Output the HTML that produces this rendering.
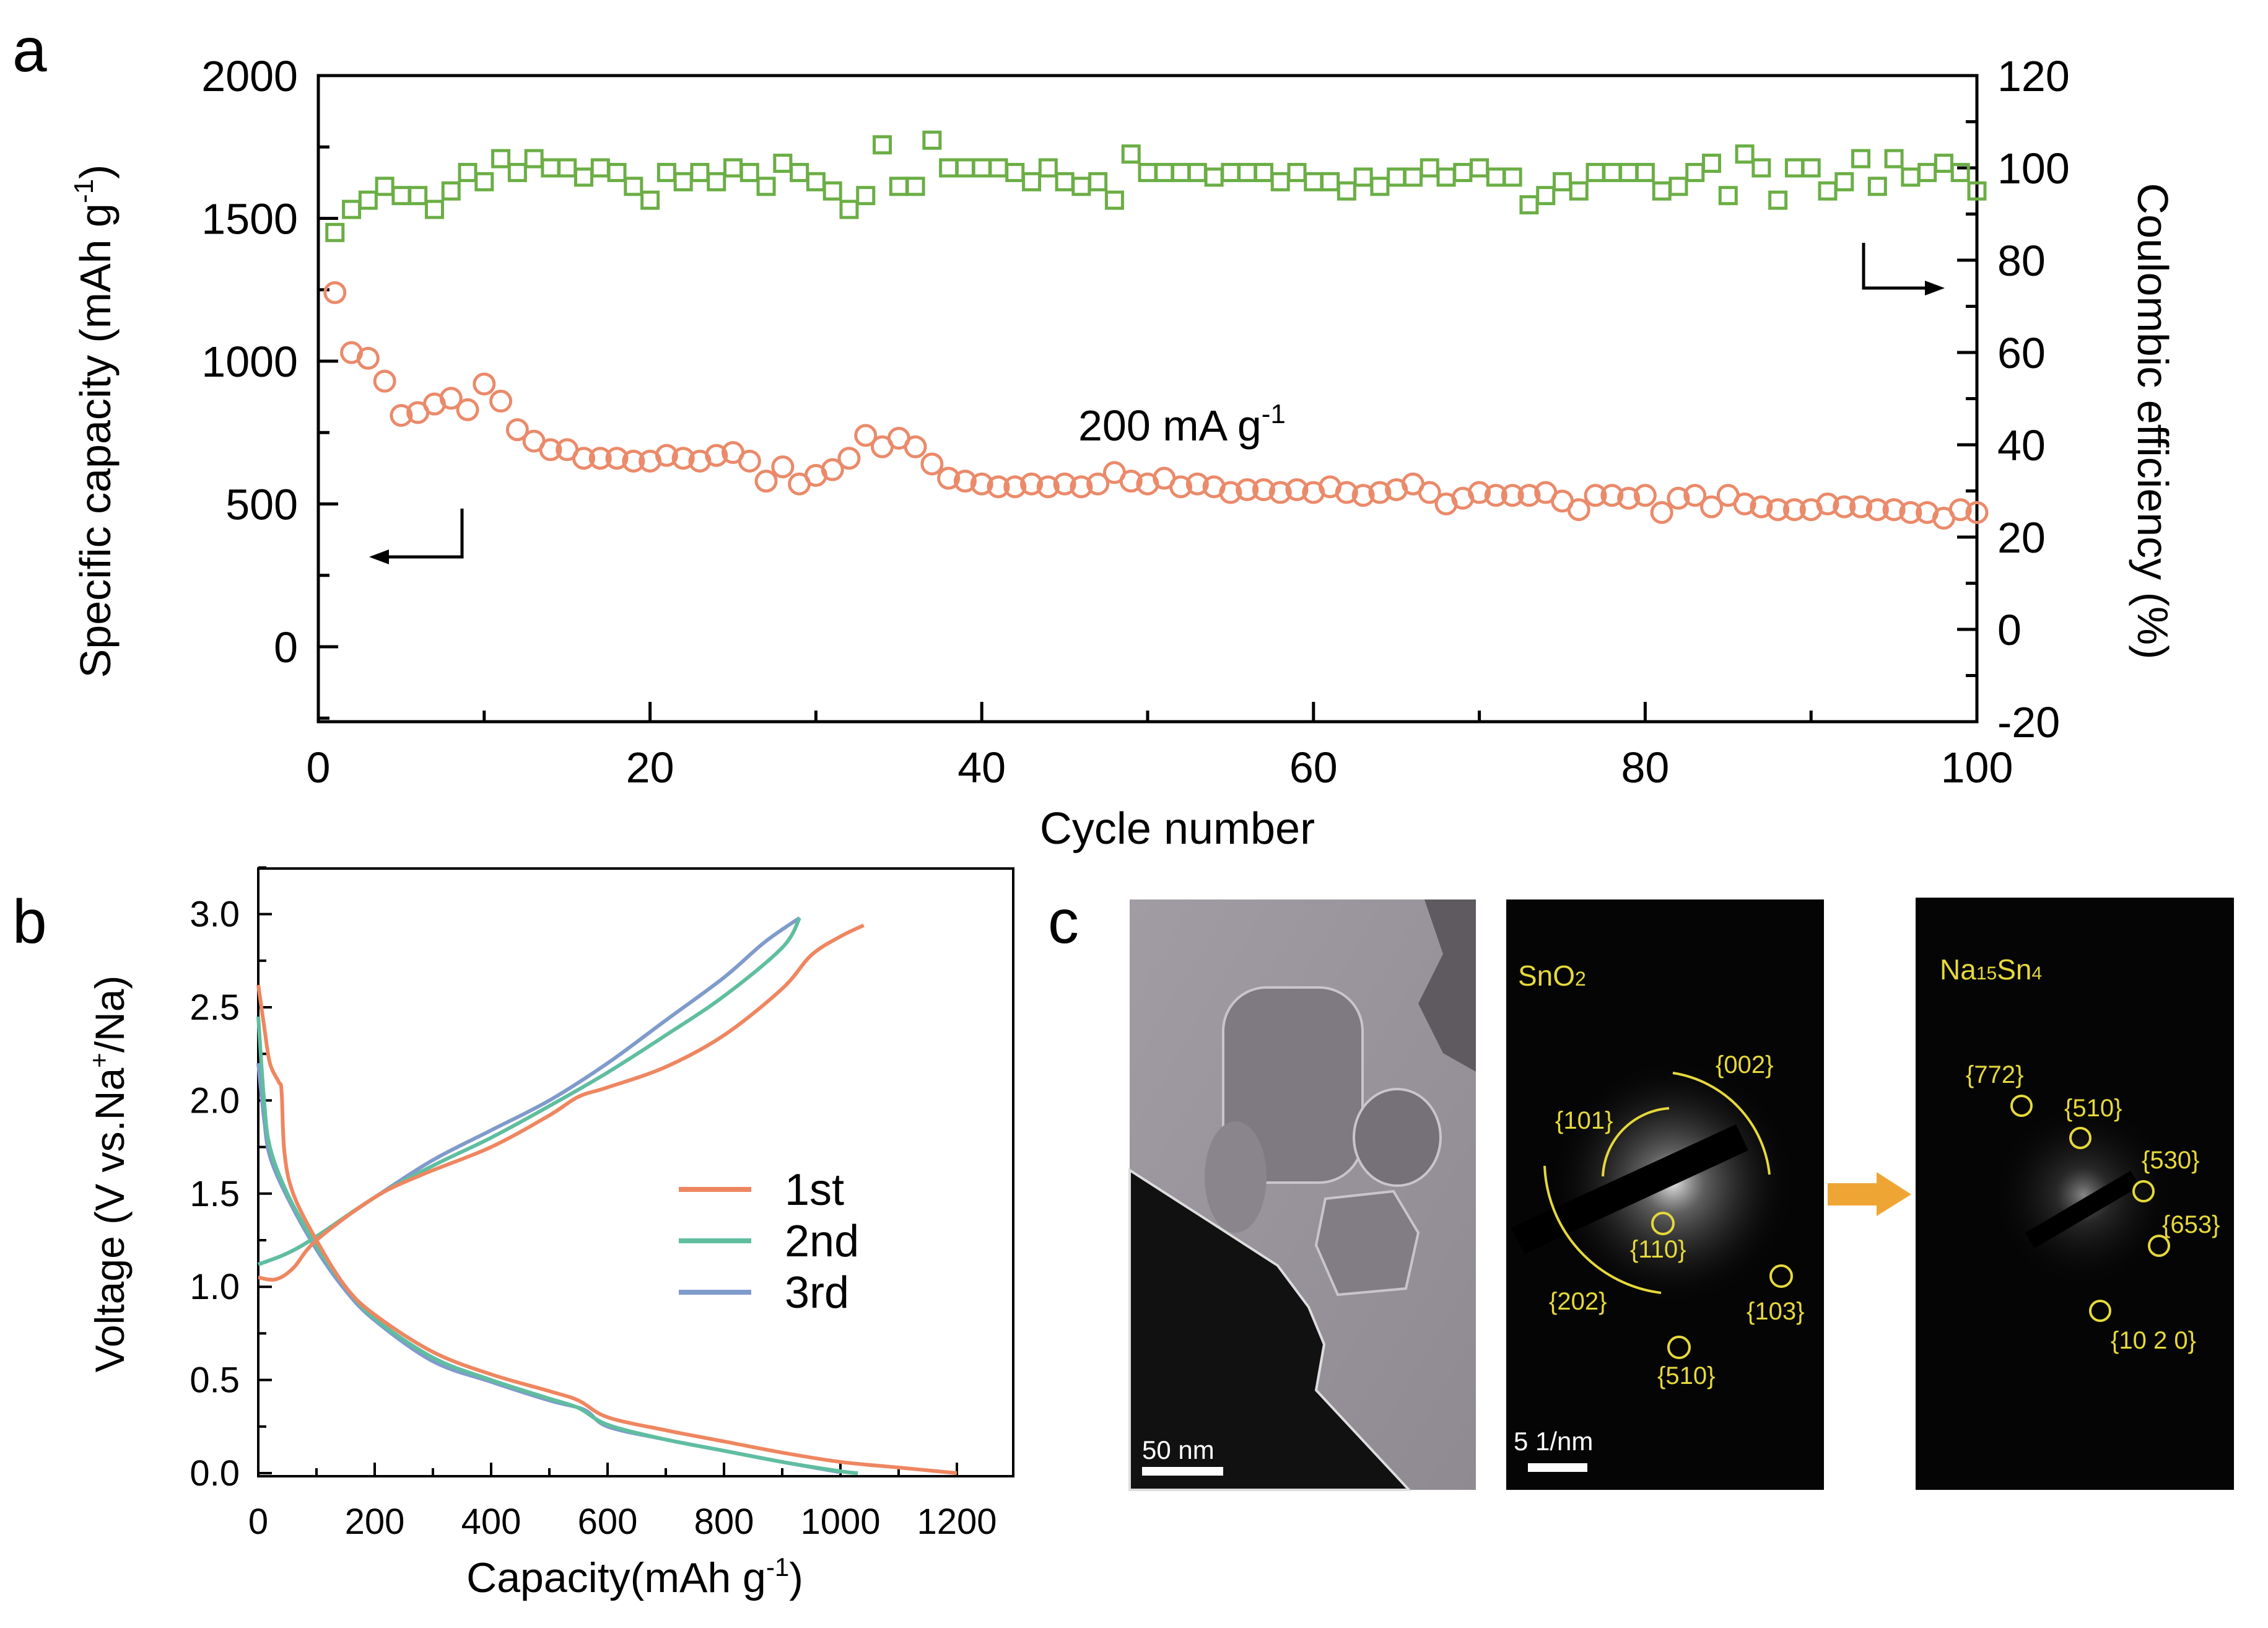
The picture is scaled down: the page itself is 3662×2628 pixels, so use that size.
<!DOCTYPE html>
<html><head><meta charset="utf-8"><style>
html,body{margin:0;padding:0;background:#fff}
svg{display:block}
text{font-family:"Liberation Sans",sans-serif}
</style></head><body>
<svg id="fig" width="3662" height="2628" viewBox="0 0 3662 2628" xmlns="http://www.w3.org/2000/svg">
<defs>
<radialGradient id="glow1" cx="0.5" cy="0.5" r="0.5"><stop offset="0" stop-color="#fff" stop-opacity="0.9"/><stop offset="0.25" stop-color="#bbb" stop-opacity="0.5"/><stop offset="1" stop-color="#000" stop-opacity="0"/></radialGradient>
<radialGradient id="glow2" cx="0.5" cy="0.5" r="0.5"><stop offset="0" stop-color="#ddd" stop-opacity="0.6"/><stop offset="0.3" stop-color="#777" stop-opacity="0.3"/><stop offset="1" stop-color="#000" stop-opacity="0"/></radialGradient>
<linearGradient id="temBg" x1="0" y1="0" x2="1" y2="1"><stop offset="0" stop-color="#a19ca3"/><stop offset="1" stop-color="#8f8a92"/></linearGradient>
</defs>
<g id="panelA"></g>
<g id="panelB"></g>
<g id="panelC">
  <text x="1692" y="1522" font-size="100">c</text>
  <g>
    <rect x="1824" y="1452" width="559" height="953" fill="url(#temBg)"/>
    <polygon points="2300,1452 2383,1452 2383,1730 2330,1700 2290,1620 2330,1540" fill="#5e5a60"/>
    <rect x="1975" y="1594" width="225" height="315" rx="70" fill="#7f7a82" stroke="#c9c5cc" stroke-width="4"/>
    <ellipse cx="2256" cy="1836" rx="70" ry="78" fill="#767178" stroke="#c9c5cc" stroke-width="4"/>
    <polygon points="2140,1935 2250,1923 2290,1990 2270,2080 2160,2090 2125,2010" fill="#827d85" stroke="#c9c5cc" stroke-width="4"/>
    <ellipse cx="1995" cy="1900" rx="50" ry="90" fill="#8a858d"/>
    <polygon points="1824,1889 1950,1970 2063,2043 2113,2110 2138,2170 2125,2244 2275,2405 1824,2405" fill="#111" stroke="#ddd" stroke-width="4"/>
    <rect x="1844" y="2368" width="131" height="14" fill="#fff"/>
    <text x="1844" y="2355" font-size="42" fill="#fff">50 nm</text>
  </g>
  <g>
    <rect x="2432" y="1452" width="513" height="953" fill="#050505"/>
    <circle cx="2701" cy="1909" r="200" fill="url(#glow1)"/>
    <polygon points="2440,1982 2803,1815 2823,1857 2462,2024" fill="#000"/>
    <g fill="none" stroke="#e6d93a" stroke-width="4">
      <path d="M2701,1732 A185,185 0 0 1 2857,1896"/>
      <path d="M2494,1882 A215,215 0 0 0 2682,2087"/>
      <path d="M2588,1899 A115,115 0 0 1 2695,1789"/>
      <circle cx="2685" cy="1975" r="17"/><circle cx="2876" cy="2060" r="17"/><circle cx="2711" cy="2175" r="17"/>
    </g>
    <g fill="#e6d93a" font-family="Liberation Serif" font-size="40">
      <text x="2451" y="1591" font-family="Liberation Sans" font-size="46">SnO<tspan font-size="32">2</tspan></text>
      <text x="2770" y="1732">{002}</text><text x="2511" y="1822">{101}</text><text x="2632" y="2030">{110}</text>
      <text x="2501" y="2114">{202}</text><text x="2820" y="2130">{103}</text><text x="2676" y="2234">{510}</text>
    </g>
    <rect x="2467" y="2362" width="96" height="14" fill="#fff"/>
    <text x="2444" y="2341" font-size="42" fill="#fff">5 1/nm</text>
  </g>
  <polygon points="2951,1910 3030,1910 3030,1892 3086,1928 3030,1963 3030,1946 2951,1946" fill="#efa534"/>
  <g>
    <rect x="3093" y="1449" width="514" height="956" fill="#050505"/>
    <circle cx="3364" cy="1929" r="150" fill="url(#glow2)"/>
    <polygon points="3270,1990 3440,1890 3455,1915 3285,2015" fill="#000"/>
    <g fill="none" stroke="#e6d93a" stroke-width="4">
      <circle cx="3264" cy="1785" r="16"/><circle cx="3359" cy="1837" r="16"/><circle cx="3461" cy="1923" r="16"/>
      <circle cx="3486" cy="2011" r="16"/><circle cx="3391" cy="2116" r="16"/>
    </g>
    <g fill="#e6d93a" font-family="Liberation Serif" font-size="40">
      <text x="3132" y="1581" font-family="Liberation Sans" font-size="46">Na<tspan font-size="30">15</tspan>Sn<tspan font-size="30">4</tspan></text>
      <text x="3174" y="1748">{772}</text><text x="3333" y="1802">{510}</text><text x="3458" y="1886">{530}</text>
      <text x="3491" y="1990">{653}</text><text x="3408" y="2177">{10 2 0}</text>
    </g>
  </g>
</g>
</svg>
<script>
// ---------- Panel a data ----------
const cycles = Array.from({length:100},(_,i)=>i+1);
const capacity = [1240,1030,1010,930,810,820,850,870,830,920,860,760,720,690,690,660,660,660,650,650,
670,660,650,670,680,650,580,630,570,600,620,660,740,700,730,700,640,590,580,570,
560,560,570,560,570,560,570,610,580,570,590,560,570,560,540,550,550,540,550,540,
560,540,530,540,550,570,540,500,520,540,530,530,530,540,510,480,530,530,520,530,
470,520,530,490,530,500,490,480,480,480,500,490,490,480,480,470,470,450,480,470];
const efficiency = [86,91,93,96,94,94,91,95,99,97,102,99,102,100,100,98,100,99,96,93,
99,97,99,97,100,99,96,101,99,97,95,91,94,105,96,96,106,100,100,100,
100,99,97,100,97,96,97,93,103,99,99,99,99,98,99,99,99,97,99,97,
97,95,98,96,98,98,100,98,99,100,98,98,92,94,97,95,99,99,99,99,
95,96,99,101,94,103,100,93,100,100,95,97,102,96,102,98,99,101,99,95];
const xTicksA = [0,20,40,60,80,100];
const yTicksLeft = [0,500,1000,1500,2000];
const yTicksRight = [-20,0,20,40,60,80,100,120];

// ---------- Panel b data ----------
const d1 = [[0,2.62],[10,2.4],[20,2.2],[35,2.1],[40,2.05],[45,1.72],[60,1.5],[100,1.25],[150,1.0],[200,0.85],[300,0.65],[400,0.53],[500,0.44],[550,0.39],[600,0.3],[700,0.23],[800,0.17],[900,0.11],[1000,0.06],[1100,0.03],[1200,0.0]];
const d2 = [[0,2.45],[10,2.0],[20,1.75],[50,1.5],[100,1.22],[150,1.0],[200,0.83],[300,0.62],[400,0.5],[500,0.4],[550,0.35],[600,0.26],[700,0.18],[800,0.12],[900,0.06],[1000,0.01],[1030,0.0]];
const d3 = [[0,2.2],[10,1.9],[20,1.7],[50,1.48],[100,1.2],[150,0.98],[200,0.82],[300,0.6],[400,0.49],[500,0.39],[560,0.34],[600,0.25],[700,0.18],[800,0.12],[900,0.06],[1000,0.005]];
const c1 = [[0,1.05],[30,1.04],[60,1.1],[100,1.25],[200,1.48],[280,1.6],[400,1.75],[500,1.92],[550,2.02],[600,2.07],[700,2.18],[800,2.35],[900,2.6],[950,2.78],[1000,2.88],[1040,2.94]];
const c2 = [[0,1.12],[50,1.18],[100,1.27],[200,1.48],[300,1.65],[400,1.8],[500,1.97],[600,2.15],[700,2.35],[800,2.56],[900,2.82],[930,2.98]];
const c3 = [[0,1.12],[50,1.18],[100,1.27],[200,1.48],[300,1.68],[400,1.84],[500,2.0],[600,2.2],[700,2.43],[800,2.66],[870,2.85],[930,2.98]];
const xTicksB = [0,200,400,600,800,1000,1200];
const yTicksB = [0.0,0.5,1.0,1.5,2.0,2.5,3.0];
const yTickLabelsB = ["0.0","0.5","1.0","1.5","2.0","2.5","3.0"];
const legendLabels = ["1st","2nd","3rd"];

const NS="http://www.w3.org/2000/svg";
function mk(parent,tag,attrs,txt){const e=document.createElementNS(NS,tag);for(const k in attrs)e.setAttribute(k,attrs[k]);if(txt!==undefined)e.textContent=txt;parent.appendChild(e);return e;}

// ----- Panel A -----
const A=document.getElementById('panelA');
const ax={l:514,r:3192,t:122,b:1165};
const xA=v=>ax.l+(v/100)*(ax.r-ax.l);
const yL=v=>1044-(v/1000)*461;
const yR=v=>ax.t+(120-v)*(ax.b-ax.t)/140;
let t=mk(A,'text',{x:20,y:115,'font-size':100});t.textContent='a';


let fr=mk(A,'rect',{x:ax.l,y:ax.t,width:ax.r-ax.l,height:ax.b-ax.t,fill:'none',stroke:'#000','stroke-width':5});


for(let v=0;v<=100;v+=10){const big=v%20===0;mk(A,'line',{x1:xA(v),x2:xA(v),y1:ax.b,y2:ax.b-(big?32:18),stroke:'#000','stroke-width':5});}
xTicksA.forEach(v=>{const e=mk(A,'text',{x:xA(v),y:1263,'font-size':70,'text-anchor':'middle'},String(v));

});
for(let v=-250;v<=2000;v+=250){const big=v%500===0;if(v<-240||v>1990&&false){} if(yL(v)>ax.b||yL(v)<ax.t)continue;mk(A,'line',{x1:ax.l,x2:ax.l+(big?32:18),y1:yL(v),y2:yL(v),stroke:'#000','stroke-width':5});}
yTicksLeft.forEach(v=>{const e=mk(A,'text',{x:481,y:yL(v)+25,'font-size':70,'text-anchor':'end'},String(v));

});
for(let v=-20;v<=120;v+=10){const big=v%20===0;mk(A,'line',{x1:ax.r,x2:ax.r-(big?32:18),y1:yR(v),y2:yR(v),stroke:'#000','stroke-width':5});}
yTicksRight.forEach(v=>{const e=mk(A,'text',{x:3225,y:yR(v)+25,'font-size':70},String(v));

});
t=mk(A,'text',{x:1901,y:1362,'font-size':72,'text-anchor':'middle'},'Cycle number');


t=mk(A,'text',{transform:'translate(178,680) rotate(-90)','font-size':70,'text-anchor':'middle'});
t.innerHTML='Specific capacity (mAh g<tspan dy="-28" font-size="44">-1</tspan><tspan dy="28">)</tspan>';


t=mk(A,'text',{transform:'translate(3452,680) rotate(90)','font-size':70,'text-anchor':'middle'},'Coulombic efficiency (%)');


t=mk(A,'text',{x:1741,y:711,'font-size':70});
t.innerHTML='200 mA g<tspan dy="-28" font-size="44">-1</tspan>';


let g=mk(A,'g',{});


mk(g,'polyline',{points:'746,821 746,899 620,899',fill:'none',stroke:'#000','stroke-width':5});
mk(g,'polygon',{points:'596,899 628,887 628,911',fill:'#000'});
g=mk(A,'g',{});


mk(g,'polyline',{points:'3009,392 3009,465 3116,465',fill:'none',stroke:'#000','stroke-width':5});
mk(g,'polygon',{points:'3140,465 3108,453 3108,477',fill:'#000'});
const gEff=mk(A,'g',{});


cycles.forEach((c,i)=>{const e=mk(gEff,'rect',{x:xA(c)-13,y:yR(efficiency[i])-13,width:26,height:26,fill:'none',stroke:'#6bae45','stroke-width':5});

});
const gCap=mk(A,'g',{});


cycles.forEach((c,i)=>{const e=mk(gCap,'circle',{cx:xA(c),cy:yL(capacity[i]),r:16,fill:'none',stroke:'#ea8a6a','stroke-width':5});

});

// ----- Panel B -----
const B=document.getElementById('panelB');
const bx={l:417,r:1636,t:1402,b:2383};
const xB=v=>bx.l+v*(188/200);
const yB=v=>2378-v*(150.4/0.5);
t=mk(B,'text',{x:20,y:1522,'font-size':100},'b');


fr=mk(B,'rect',{x:bx.l,y:bx.t,width:bx.r-bx.l,height:bx.b-bx.t,fill:'none',stroke:'#000','stroke-width':4});


for(let v=0;v<=1300;v+=100){const big=v%200===0;if(xB(v)>bx.r)continue;mk(B,'line',{x1:xB(v),x2:xB(v),y1:bx.b,y2:bx.b-(big?22:13),stroke:'#000','stroke-width':4});}
xTicksB.forEach(v=>{const e=mk(B,'text',{x:xB(v),y:2476,'font-size':58,'text-anchor':'middle'},String(v));

});
for(let v=0;v<=3.25;v+=0.25){const big=Math.abs(v*2-Math.round(v*2))<1e-6;mk(B,'line',{x1:bx.l,x2:bx.l+(big?22:13),y1:yB(v),y2:yB(v),stroke:'#000','stroke-width':4});}
yTicksB.forEach((v,i)=>{const e=mk(B,'text',{x:387,y:yB(v)+20,'font-size':58,'text-anchor':'end'},yTickLabelsB[i]);

});
t=mk(B,'text',{x:1025,y:2570,'font-size':68,'text-anchor':'middle'});
t.innerHTML='Capacity(mAh g<tspan dy="-26" font-size="42">-1</tspan><tspan dy="26">)</tspan>';


t=mk(B,'text',{transform:'translate(200,1895) rotate(-90)','font-size':66,'text-anchor':'middle'});
t.innerHTML='Voltage (V vs.Na<tspan dy="-26" font-size="42">+</tspan><tspan dy="26">/Na)</tspan>';


function curve(pts){let s='M'+xB(pts[0][0])+','+yB(pts[0][1]);
 for(let i=0;i<pts.length-1;i++){const p0=pts[Math.max(0,i-1)],p1=pts[i],p2=pts[i+1],p3=pts[Math.min(pts.length-1,i+2)];
  const a=[xB(p0[0]),yB(p0[1])],b=[xB(p1[0]),yB(p1[1])],c=[xB(p2[0]),yB(p2[1])],d=[xB(p3[0]),yB(p3[1])];
  s+=' C'+(b[0]+(c[0]-a[0])/6)+','+(b[1]+(c[1]-a[1])/6)+' '+(c[0]-(d[0]-b[0])/6)+','+(c[1]-(d[1]-b[1])/6)+' '+c[0]+','+c[1];}
 return s;}
const series=[[d3,'#7f9bcb','discharge-3rd'],[c3,'#7f9bcb','charge-3rd'],[d2,'#5fbea0','discharge-2nd'],[c2,'#5fbea0','charge-2nd'],[d1,'#ee8660','discharge-1st'],[c1,'#ee8660','charge-1st']];
series.forEach(s=>{const e=mk(B,'path',{d:curve(s[0]),fill:'none',stroke:s[1],'stroke-width':6});

});
const legCols=['#ee8660','#5fbea0','#7f9bcb'];
legendLabels.forEach((lab,i)=>{const y=1920+i*83;
 const gl=mk(B,'g',{});
 
 
 mk(gl,'line',{x1:1096,x2:1213,y1:y,y2:y,stroke:legCols[i],'stroke-width':8});
 mk(gl,'text',{x:1267,y:y+25,'font-size':72},lab);});
</script>
</body></html>
